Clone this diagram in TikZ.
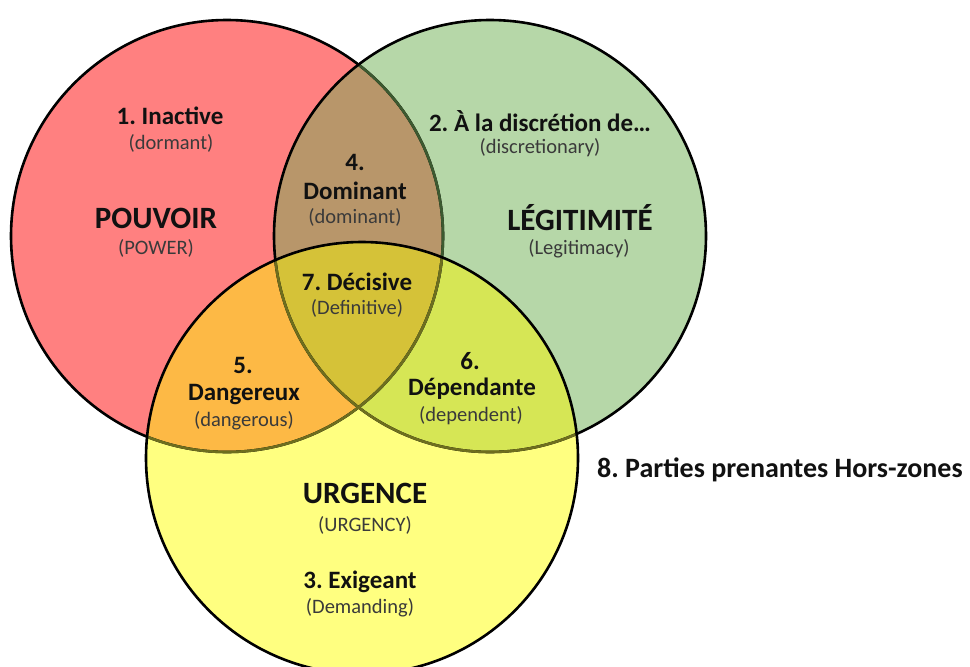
\documentclass[tikz,border=0pt]{standalone}
\usepackage{fontspec}
\setmainfont{Carlito}
\definecolor{cred}{HTML}{FF8080}
\definecolor{cgreen}{HTML}{B6D7A8}
\definecolor{cyellow}{HTML}{FFFF80}
\definecolor{cbrown}{HTML}{B8966A}
\definecolor{corange}{HTML}{FDB945}
\definecolor{clime}{HTML}{D6E655}
\definecolor{ccenter}{HTML}{D5C238}
\definecolor{lgreen}{HTML}{3C5A30}
\definecolor{lolive}{HTML}{6E6E1E}
\definecolor{tdark}{HTML}{111111}
\definecolor{tgray}{HTML}{3A3A3A}
\frenchspacing
\begin{document}
\begin{tikzpicture}[x=1pt,y=-1pt,
  ol/.style={line width=2.6pt,draw=black},
  lbl/.style={inner sep=0pt,text=tdark,font=\fontsize{25}{30}\selectfont\bfseries},
  par/.style={inner sep=0pt,text=tgray,font=\fontsize{20.5}{24}\selectfont},
  ttl/.style={inner sep=0pt,text=tdark,font=\fontsize{31}{36}\selectfont\bfseries},
  ext/.style={inner sep=0pt,text=tdark,font=\fontsize{28}{32}\selectfont\bfseries}]
\path[use as bounding box] (0,0) rectangle (970,667);
\begin{scope}
\clip (0,0) rectangle (970,667);
\coordinate (R) at (227,236);
\coordinate (G) at (490,236);
\coordinate (Y) at (362,458);
\fill[cred] (R) circle (216pt);
\fill[cgreen] (G) circle (216pt);
\fill[cyellow] (Y) circle (216pt);
\begin{scope}
  \clip (R) circle (216pt);
  \fill[cbrown] (G) circle (216pt);
  \fill[corange] (Y) circle (216pt);
\end{scope}
\begin{scope}
  \clip (G) circle (216pt);
  \fill[clime] (Y) circle (216pt);
  \clip (R) circle (216pt);
  \fill[ccenter] (Y) circle (216pt);
\end{scope}
\draw[ol] (R) circle (216pt);
\begin{scope}
  \clip (G) circle (216pt);
  \draw[ol,draw=lgreen] (R) circle (216pt);
\end{scope}
\draw[ol] (G) circle (216pt);
\begin{scope}
  \clip (Y) circle (216pt);
  \draw[ol,draw=lolive] (R) circle (216pt);
  \draw[ol,draw=lolive] (G) circle (216pt);
\end{scope}
\draw[ol] (Y) circle (216pt);
\end{scope}
% texts
\node[lbl] (t1a) at (170,116) {1. Inactive};
\node[par] (t1b) at (171,143) {(dormant)};
\node[ttl] (pw) at (156,218) {POUVOIR};
\node[par] (pwb) at (156,248) {(POWER)};
\node[lbl] (t4n) at (355,162) {4.};
\node[lbl] (t4a) at (355,191) {Dominant};
\node[par] (t4b) at (355,217) {(dominant)};
\node[lbl] (t7a) at (357,282) {7. Décisive};
\node[par] (t7b) at (357,308) {(Definitive)};
\node[lbl] (t5n) at (243,365) {5.};
\node[lbl] (t5a) at (244,395) {Dangereux};
\node[par] (t5b) at (244,421) {(dangerous)};
\node[lbl] (t2a) at (540,121) {2. À la discrétion de…};
\node[par] (t2b) at (540,148) {(discretionary)};
\node[ttl] (lg) at (580,218) {LÉGITIMITÉ};
\node[par] (lgb) at (579,249) {(Legitimacy)};
\node[lbl] (t6n) at (470,361) {6.};
\node[lbl] (t6a) at (472,389) {Dépendante};
\node[par] (t6b) at (471,416) {(dependent)};
\node[ttl] (ur) at (365,493) {URGENCE};
\node[par] (urb) at (365,525) {(URGENCY)};
\node[lbl] (t3a) at (360,582) {3. Exigeant};
\node[par] (t3b) at (360,608) {(Demanding)};
\node[ext,anchor=west] (t8) at (597,470) {8. Parties prenantes Hors-zones};
\end{tikzpicture}
\end{document}
